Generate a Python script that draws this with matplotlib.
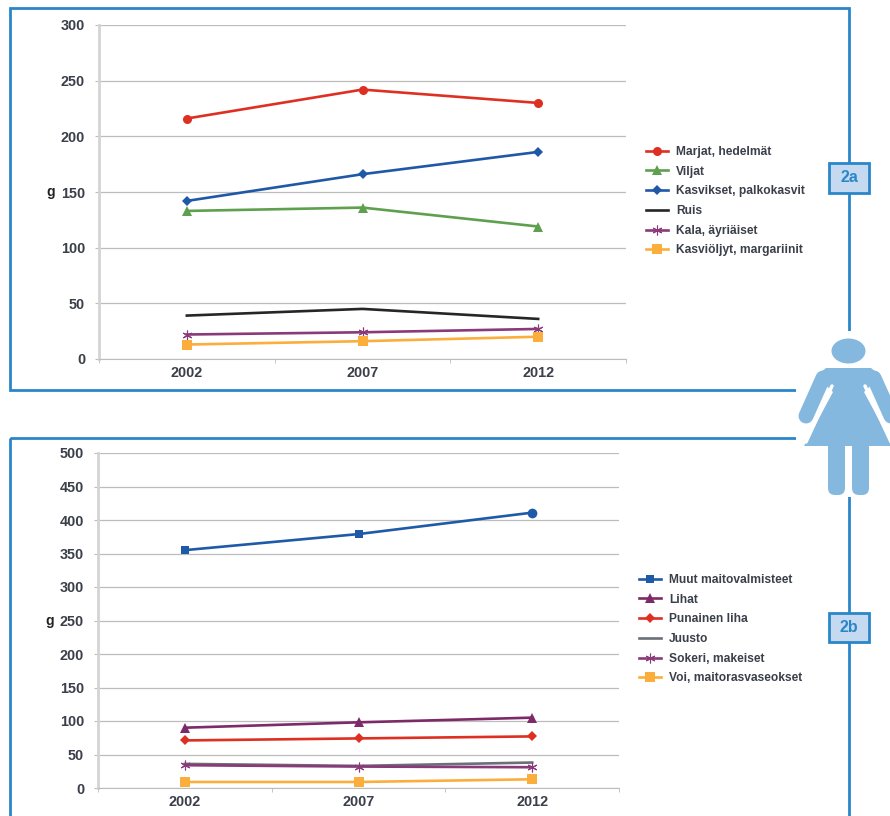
#coding:utf-8
import matplotlib
matplotlib.use('Agg')
import matplotlib.pyplot as plt
from matplotlib.patches import Ellipse, Polygon, Rectangle, FancyBboxPatch

plt.rcParams['font.family'] = ['Liberation Sans', 'DejaVu Sans']

W, H = 890, 816
years = ['2002', '2007', '2012']

# 2a
labels_a = ['Marjat, hedelmät', 'Viljat', 'Kasvikset, palkokasvit', 'Ruis', 'Kala, äyriäiset', 'Kasviöljyt, margariinit']
marjat = [216, 242, 230]
viljat = [133, 136, 119]
kasvikset = [142, 166, 186]
ruis = [39, 45, 36]
kala = [22, 24, 27]
kasvioljyt = [13, 16, 20]
yticks_a = [0, 50, 100, 150, 200, 250, 300]

# 2b
labels_b = ['Muut maitovalmisteet', 'Lihat', 'Punainen liha', 'Juusto', 'Sokeri, makeiset', 'Voi, maitorasvaseokset']
muut = [355, 379, 411]
lihat = [90, 98, 105]
punainen = [71, 74, 77]
juusto = [36, 33, 38]
sokeri = [34, 32, 31]
voi = [9, 9, 13]
yticks_b = [0, 50, 100, 150, 200, 250, 300, 350, 400, 450, 500]

BLUE = '#2a86c8'
TXT = '#3a3f4a'
STAR = (6, 2, 0)
styles_a = [('#dd3022', 'o', 6.5), ('#5fa04e', '^', 6.5), ('#2058a8', 'D', 5),
            ('#262626', None, 0), ('#8a3a78', STAR, 7), ('#fbae3c', 's', 6.5)]
styles_b = [('#1f5aa8', 's', 6), ('#7d2a68', '^', 6.5), ('#dd3022', 'D', 5),
            ('#6b6f76', None, 0), ('#8a3a78', STAR, 7), ('#fbae3c', 's', 6.5)]


def make_axes(fig, left, right, top, bottom):
    return fig.add_axes([left / W, 1 - bottom / H, (right - left) / W, (bottom - top) / H])


def draw_panel(fig, box, series, labels, styles, yticks, ymax, legend_top, legend_x, ylab_x, round_last=False):
    ax = make_axes(fig, *box)
    x = [0, 1, 2]
    for i, (vals, lab, (c, m, ms)) in enumerate(zip(series, labels, styles)):
        mew = 0.8 if m == STAR else 0
        if round_last and i == 0:
            # first series of 2b ends in a round marker, the legend keeps the square
            ax.plot(x, vals, color=c, lw=1.9)
            ax.plot(x[:2], vals[:2], ls='none', color=c, marker=m, ms=ms, mew=0)
            ax.plot(x[2:], vals[2:], ls='none', color=c, marker='o', ms=ms + 1, mew=0)
            ax.plot([], [], color=c, lw=1.9, marker=m, ms=ms, mew=0, label=lab)
        else:
            ax.plot(x, vals, color=c, lw=1.9, marker=m, ms=ms, mew=mew, label=lab)
    ax.set_xlim(-0.5, 2.5)
    ax.set_ylim(0, ymax)
    ax.set_yticks(yticks)
    ax.set_xticks(x)
    ax.set_xticklabels(years)
    ax.set_xticks([-0.5, 0.5, 1.5, 2.5], minor=True)
    ax.grid(axis='y', color='#bdbdbd', lw=0.9)
    ax.set_axisbelow(True)
    for s in ['top', 'right']:
        ax.spines[s].set_visible(False)
    ax.spines['left'].set_color('#d4d4d4')
    ax.spines['left'].set_linewidth(2)
    ax.spines['bottom'].set_color('#bdbdbd')
    ax.tick_params(axis='x', which='major', length=0, pad=5)
    ax.tick_params(axis='x', which='minor', length=3, color='#bdbdbd')
    ax.tick_params(axis='y', length=3, color='#bdbdbd', pad=7)
    for t in ax.get_xticklabels() + ax.get_yticklabels():
        t.set_fontsize(10.4)
        t.set_fontweight('bold')
        t.set_color(TXT)
    fig.text(ylab_x / W, 1 - (box[2] + box[3]) / 2 / H, 'g', fontsize=10, fontweight='bold',
             color='#222222', ha='center', va='center')
    leg = ax.legend(loc='upper left', bbox_to_anchor=(legend_x / W, 1 - legend_top / H),
                    bbox_transform=fig.transFigure, frameon=False, fontsize=8.65,
                    labelspacing=0.64, handlelength=1.85, handletextpad=0.66,
                    borderpad=0, borderaxespad=0)
    for t in leg.get_texts():
        t.set_color(TXT)
        t.set_fontweight('bold')
    return ax


fig = plt.figure(figsize=(W / 100, H / 100), dpi=100)

# frames, connector line, labels and the figure icon in pixel coords
bg = fig.add_axes([0, 0, 1, 1])
bg.set_xlim(0, W)
bg.set_ylim(H, 0)
bg.axis('off')
bg.add_patch(Rectangle((10, 8), 839, 382, fill=False, ec=BLUE, lw=2))
bg.add_patch(Rectangle((10, 438), 839, 400, fill=False, ec=BLUE, lw=2))
bg.add_patch(Rectangle((796, 331), 94, 166, fc='white', ec='none', zorder=2))
ICON = '#85b8de'
bg.add_patch(Ellipse((848.5, 351), 34, 25, fc=ICON, ec='none', zorder=3))
# dress and shoulders
bg.add_patch(Polygon([(826, 368), (871, 368), (881, 376), (864, 392), (893, 446), (804, 446),
                      (833, 392), (816, 376)],
                     closed=True, fc=ICON, ec='none', zorder=3))
# arms
px = 72 / 100
for xs in [(823, 806), (874, 891)]:
    bg.plot(xs, [378, 416], color=ICON, lw=15 * px, solid_capstyle='round', zorder=3)
bg.plot([832, 806], [386, 442], color='white', lw=2.5, zorder=4, solid_capstyle='round')
bg.plot([865, 891], [386, 442], color='white', lw=2.5, zorder=4, solid_capstyle='round')
# legs
for lx in (828, 852):
    bg.add_patch(FancyBboxPatch((lx, 440), 17, 55, boxstyle='round,pad=0,rounding_size=7',
                                fc=ICON, ec='none', zorder=3))
for y0, h, s in [(163, 30, '2a'), (613, 29, '2b')]:
    bg.add_patch(Rectangle((829, y0), 40, h, fc='#c5daf0', ec=BLUE, lw=2, zorder=5))
    bg.text(849, y0 + h / 2, s, fontsize=11.5, fontweight='bold', color=BLUE, ha='center', va='center', zorder=6)

draw_panel(fig, (99, 626, 25, 359), [marjat, viljat, kasvikset, ruis, kala, kasvioljyt],
           labels_a, styles_a, yticks_a, 300, 146, 646, 51)
draw_panel(fig, (98, 619, 453, 788), [muut, lihat, punainen, juusto, sokeri, voi],
           labels_b, styles_b, yticks_b, 500, 574, 639, 50, round_last=True)

fig.savefig('out.png', dpi=100)
